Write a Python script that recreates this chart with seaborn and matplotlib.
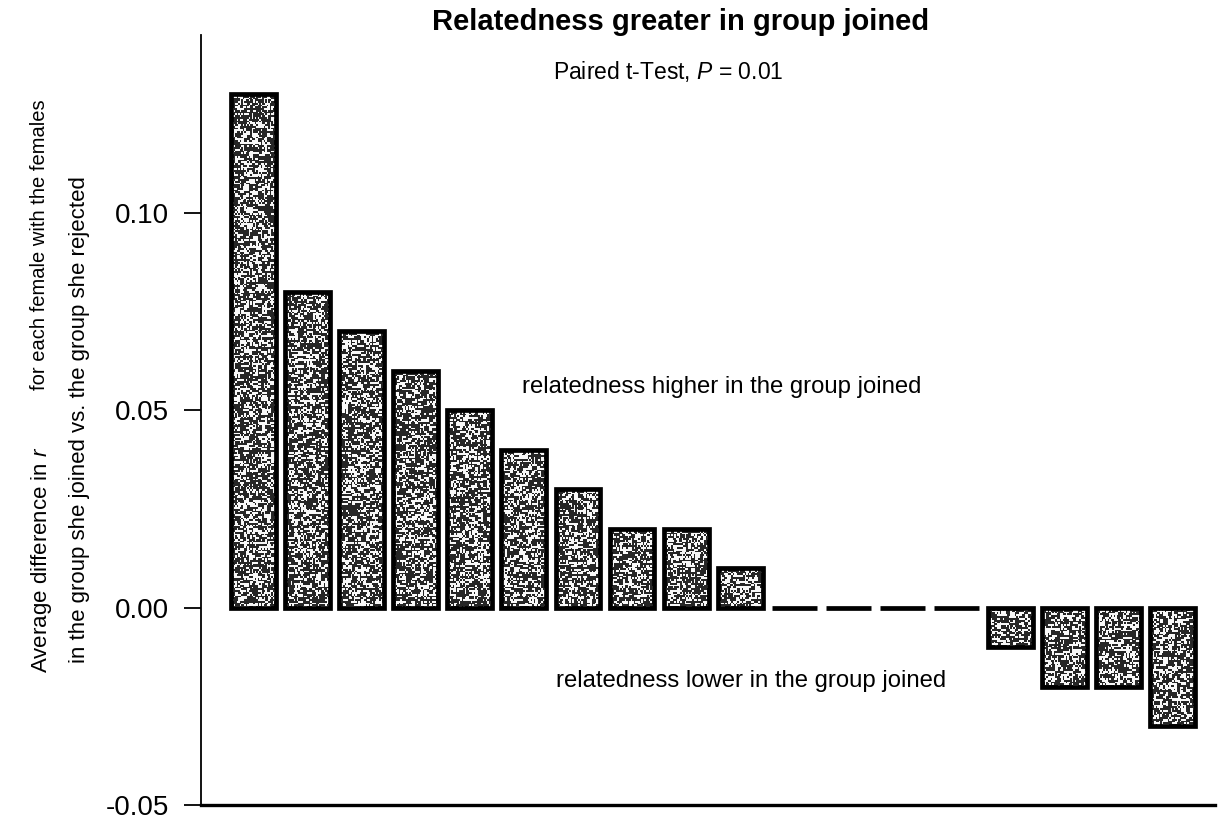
import numpy as np
import pandas as pd
import matplotlib
matplotlib.use("Agg")
import matplotlib.pyplot as plt
import seaborn as sns

# Per-female difference in mean relatedness (group joined minus group rejected)
females = [f"F{i + 1}" for i in range(18)]
diff_r = [0.13, 0.08, 0.07, 0.06, 0.05, 0.04, 0.03, 0.02, 0.02, 0.01,
          0.0, 0.0, 0.0, 0.0, -0.01, -0.02, -0.02, -0.03]
yticks = [-0.05, 0.00, 0.05, 0.10]
ytick_labels = ["-0.05", "0.00", "0.05", "0.10"]

sns.set_theme(style="ticks")
plt.rcParams["font.family"] = ["Liberation Sans", "DejaVu Sans"]
plt.rcParams["mathtext.fontset"] = "custom"
plt.rcParams["mathtext.rm"] = "Liberation Sans"
plt.rcParams["mathtext.it"] = "Liberation Sans:italic"
plt.rcParams["text.color"] = "black"
plt.rcParams["ytick.color"] = "black"
plt.rcParams["ytick.labelcolor"] = "black"

fig = plt.figure(figsize=(12.31, 8.25), dpi=100)
ax = fig.add_axes([0.1633, 0.0242, 0.8237, 0.9334])

df = pd.DataFrame({"female": females, "diff": diff_r})
sns.barplot(data=df, x="female", y="diff", order=females, color="#333333",
            saturation=1, edgecolor="black", linewidth=3.4, width=0.83, ax=ax)

ax.set_xlim(-0.97, 17.78)
ax.set_ylim(-0.05, 0.145)

# stippled fill: a speckled grey texture clipped to each bar
rng = np.random.default_rng(7)
px_per_y = 785 / 0.195
for patch in ax.patches:
    x0, y0 = patch.get_x(), patch.get_y()
    w, h = patch.get_width(), patch.get_height()
    if h == 0:
        continue
    rows = max(4, int(abs(h) * px_per_y / 1.8))
    cols = 30
    noise = rng.random((rows, cols))
    streak = rng.random((rows, cols // 3)).repeat(3, axis=1)
    tex = np.where((noise * 0.5 + streak * 0.5) < 0.45, 0.97, 0.15)
    ylo, yhi = min(y0, y0 + h), max(y0, y0 + h)
    im = ax.imshow(tex, extent=[x0, x0 + w, ylo, yhi], cmap="gray",
                   vmin=0, vmax=1, aspect="auto", interpolation="nearest",
                   zorder=patch.get_zorder() - 0.1)
    im.set_clip_path(patch)
    patch.set_facecolor("none")

ax.set_xlim(-0.97, 17.78)
ax.set_ylim(-0.05, 0.145)

ax.set_yticks(yticks)
ax.set_yticklabels(ytick_labels, fontsize=20)
ax.tick_params(axis="y", length=12, width=1.3, color="black", pad=11)
ax.set_xticks([])
ax.set_xlabel("")
ax.set_ylabel("")
for side in ["top", "right"]:
    ax.spines[side].set_visible(False)
ax.spines["left"].set_linewidth(1.3)
ax.spines["bottom"].set_linewidth(2.4)
ax.spines["left"].set_color("black")
ax.spines["bottom"].set_color("black")

ax.text(8.66, 0.0558, "relatedness higher in the group joined",
        ha="center", va="center", fontsize=17.2)
ax.text(9.20, -0.0185, "relatedness lower in the group joined",
        ha="center", va="center", fontsize=17.2)

fig.text(0.553, 1 - 22 / 825, "Relatedness greater in group joined",
         ha="center", va="center", fontsize=21, fontweight="bold")
fig.text(0.543, 1 - 71 / 825, "Paired t-Test, $P$ = 0.01",
         ha="center", va="center", fontsize=16.5)

fig.text(40 / 1231, 1 - 245 / 825, "for each female with the females",
         rotation=90, ha="center", va="center", fontsize=14.5)
fig.text(42 / 1231, 1 - 560 / 825, "Average difference in $r$",
         rotation=90, ha="center", va="center", fontsize=16)
fig.text(80 / 1231, 1 - 420 / 825,
         "in the group she joined vs. the group she rejected",
         rotation=90, ha="center", va="center", fontsize=16)

fig.savefig("out.png", dpi=100)
